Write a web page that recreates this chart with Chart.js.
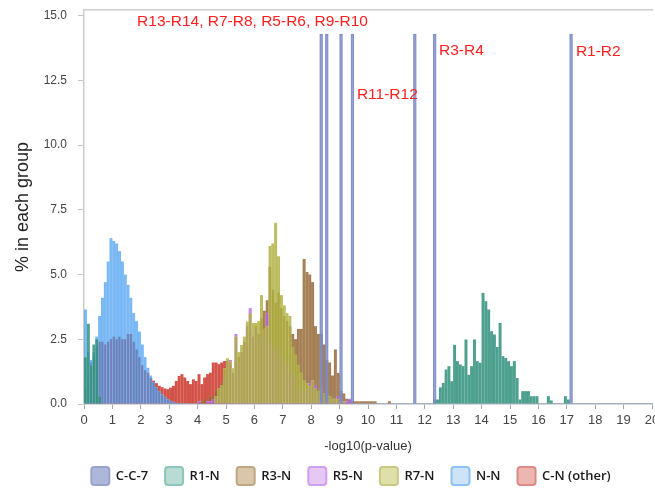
<!DOCTYPE html>
<html>
<head>
<meta charset="utf-8">
<script src="https://cdn.jsdelivr.net/npm/chart.js@4.4.1/dist/chart.umd.min.js"></script>
<style>
  html, body { margin: 0; padding: 0; background: #fff; }
</style>
</head>
<body>
<canvas id="histChart" width="655" height="489"></canvas>
<script>
// histogram bins are 0.1 wide on the -log10(p) axis
const binWidth = 0.1;

// C-C-7: seven pairs, one per bin
const cc7Bins = [8.3, 8.5, 9.0, 9.4, 11.6, 12.3, 17.1];
const cc7Values = [14.29, 14.29, 14.29, 14.29, 14.29, 14.29, 14.29];

const r1nLowStart = 0.0;
const r1nLow = [1.8, 3.1, 1.5, 2.3, 2.5, 0.3];
const r1nHighStart = 12.3;
const r1nHigh = [0.17, 0.17, 0.64, 0.81, 1.33, 1.46, 0.88, 2.29, 1.65, 1.52,
                 1.46, 2.49, 1.13, 1.46, 2.49, 1.65, 1.59, 4.29, 3.97, 3.65,
                 2.81, 2.68, 2.2, 3.13, 1.84, 1.78, 1.65, 1.46, 1.65, 1.0,
                 0.17, 0.49, 0.49, 0.49, 0.3, 0.3, 0.3, 0, 0, 0,
                 0.3, 0.13, 0, 0, 0, 0, 0.3, 0.17];

const r3nLowStart = 0.2;
const r3nLow = [1.6];
const r3nStart = 4.0;
const r3n = [0.1, 0.1, 0.2, 0.1, 0.3, 0.3, 0.5, 0.6, 0.8, 1.0,
             1.1, 1.3, 1.2, 1.6, 1.8, 2.0, 2.4, 2.2, 2.8, 2.6,
             3.0, 2.7, 3.3, 3.6, 4.0, 5.3, 4.4, 3.9, 4.3, 3.7,
             3.4, 3.2, 3.0, 2.7, 2.5, 2.9, 2.9, 5.6, 5.1, 5.0,
             4.7, 3.0, 2.7, 2.7, 2.3, 1.7, 1.6, 1.1, 2.1, 1.2,
             0.5, 0.4, 0.2, 0.15, 0.1, 0.1, 0.1, 0.1, 0.1, 0.1,
             0.1, 0.1, 0.1, 0, 0, 0, 0, 0.1];

const r5nLowStart = 0.1;
const r5nLow = [1.2, 1.6, 0.9];
const r5nStart = 4.0;
const r5n = [0.1, 0, 0, 0.1, 0.1, 0.2, 0.2, 0.3, 0.6, 1.0,
             1.6, 1.7, 1.2, 2.7, 1.6, 2.0, 2.3, 3.0, 3.7, 2.6,
             2.9, 2.5, 2.8, 2.6, 3.5, 2.4, 2.2, 2.0, 2.1, 1.8,
             1.6, 1.5, 1.3, 1.2, 1.1, 0.4, 0.6, 0.5, 0.6, 0.8,
             0.9, 0.7, 0.4, 0.3, 0.2, 0.4, 0.2, 0.2, 0.2, 0.3,
             0.2, 0.1, 0.1, 0.2];

const r7nStart = 4.6;
const r7n = [0.3, 0.6, 0.73, 1.38, 1.76, 1.64, 1.38, 2.6, 2.0, 2.28,
             2.6, 3.18, 3.5, 3.13, 3.13, 3.2, 4.2, 2.9, 3.0, 6.1,
             6.2, 7.0, 5.7, 4.2, 3.8, 3.5, 3.4, 2.2, 1.9, 1.5,
             1.2, 0.9, 0.8, 0.7, 0.9, 0.6, 0.5, 0.6, 0.4, 0.3,
             0.3, 0.2, 0.2, 0.2, 0.1, 0.1];

const nnStart = 0.0;
const nn = [3.65, 2.0, 1.7, 2.0, 2.6, 3.4, 4.1, 4.7, 5.5, 6.4,
            6.3, 6.2, 5.9, 5.5, 5.0, 4.6, 4.1, 3.5, 3.2, 2.8,
            2.3, 1.8, 1.4, 1.1, 0.85, 0.65, 0.5, 0.38, 0.28, 0.18,
            0.12, 0.08, 0.05, 0.04, 0.03, 0.02];

const cnStart = 0.0;
const cn = [0.6, 0.9, 1.1, 1.8, 2.2, 2.4, 2.4, 2.3, 2.4, 2.5,
            2.6, 2.5, 2.6, 2.5, 2.5, 2.7, 2.7, 2.4, 2.1, 1.8,
            1.5, 1.3, 1.2, 1.0, 0.9, 0.8, 0.7, 0.65, 0.6, 0.57,
            0.63, 0.7, 0.89, 1.08, 1.15, 1.02, 0.89, 0.76, 0.95, 0.89,
            1.15, 0.76, 1.02, 1.15, 1.21, 1.6, 1.6, 1.53, 1.6, 1.66,
            1.66, 1.5];

const yTickValues = [0, 2.5, 5, 7.5, 10, 12.5, 15];

const noteTexts = ['R13-R14, R7-R8, R5-R6, R9-R10', 'R11-R12', 'R3-R4', 'R1-R2'];
const noteX = [1.87, 9.61, 12.5, 17.32];
const noteY = [14.6, 11.78, 13.47, 13.44];

// bar center for each bin, rounded so shared bins line up exactly
function binPoints(start, values) {
  return values.map((v, i) => ({ x: Math.round((start + (i + 0.5) * binWidth) * 100) / 100, y: v }))
               .filter(p => p.y > 0);
}

const styles = {
  'C-C-7':       { fill: 'rgba(128,142,200,0.8)',  edge: 'rgba(110,125,188,0.85)', lgFill: '#aeb6da', lgEdge: '#98a3d0', order: 0 },
  'R1-N':        { fill: 'rgba(50,145,125,0.85)',  edge: 'rgba(160,210,198,0.7)', lgFill: '#b8dcd4', lgEdge: '#8cc6ba', order: 1 },
  'R3-N':        { fill: 'rgba(145,100,50,0.8)',   edge: 'rgba(200,170,130,0.6)', lgFill: '#d9c6ab', lgEdge: '#c0a585', order: 5 },
  'R5-N':        { fill: 'rgba(185,95,232,0.78)',  edge: 'rgba(222,175,246,0.6)', lgFill: '#e6c8f5', lgEdge: '#cf9ef0', order: 4 },
  'R7-N':        { fill: 'rgba(172,174,62,0.8)',   edge: 'rgba(218,218,150,0.6)', lgFill: '#dedfaa', lgEdge: '#c8ca84', order: 3 },
  'N-N':         { fill: 'rgba(60,152,240,0.66)',  edge: 'rgba(175,212,250,0.6)', lgFill: '#cfe3f8', lgEdge: '#8cc2f4', order: 2 },
  'C-N (other)': { fill: 'rgba(205,60,50,0.88)',   edge: 'rgba(232,150,142,0.6)', lgFill: '#ecb6b1', lgEdge: '#dc8a84', order: 6 }
};

const seriesData = {
  'C-C-7': cc7Bins.map((b, i) => ({ x: Math.round((b + binWidth / 2) * 100) / 100, y: cc7Values[i] })),
  'R1-N': binPoints(r1nLowStart, r1nLow).concat(binPoints(r1nHighStart, r1nHigh)),
  'R3-N': binPoints(r3nLowStart, r3nLow).concat(binPoints(r3nStart, r3n)),
  'R5-N': binPoints(r5nLowStart, r5nLow).concat(binPoints(r5nStart, r5n)),
  'R7-N': binPoints(r7nStart, r7n),
  'N-N': binPoints(nnStart, nn),
  'C-N (other)': binPoints(cnStart, cn)
};

const datasets = Object.keys(seriesData).map(name => ({
  label: name,
  data: seriesData[name],
  backgroundColor: styles[name].fill,
  borderColor: styles[name].edge,
  borderWidth: name === 'C-C-7' ? 0.6 : 0.3,
  borderSkipped: 'start',
  grouped: false,
  barPercentage: 1,
  categoryPercentage: 1,
  order: styles[name].order
}));

const noteLabels = {
  id: 'noteLabels',
  afterDatasetsDraw(chart) {
    const { ctx, scales: { x, y } } = chart;
    ctx.save();
    ctx.font = '15.5px "Liberation Sans", Arial, sans-serif';
    ctx.fillStyle = '#ff1f1f';
    ctx.textBaseline = 'alphabetic';
    noteTexts.forEach((t, i) => ctx.fillText(t, x.getPixelForValue(noteX[i]), y.getPixelForValue(noteY[i])));
    ctx.restore();
  }
};

// legend sits a bit right of / below where chart.js puts it
const legendNudge = {
  id: 'legendNudge',
  afterLayout(chart) {
    const lg = chart.legend;
    lg.left += 25; lg.right += 25;
    lg.top += 6; lg.bottom += 6;
  }
};

new Chart(document.getElementById('histChart'), {
  type: 'bar',
  data: { datasets },
  plugins: [noteLabels, legendNudge],
  options: {
    responsive: false,
    animation: false,
    devicePixelRatio: 1,
    layout: { padding: { top: 10, right: 3, left: 0, bottom: 0 } },
    scales: {
      x: {
        type: 'linear',
        offset: false,
        min: 0, max: 20,
        ticks: {
          stepSize: 1, padding: 4, color: '#444',
          font: { family: '"Liberation Sans", Arial, sans-serif', size: 13 },
          callback: v => String(v)
        },
        grid: { display: true, offset: false, drawOnChartArea: false, drawTicks: true, tickLength: 5, color: '#a8a8a8' },
        border: { display: true, color: '#a9b1c0', width: 1.5 },
        title: {
          display: true, text: '-log10(p-value)', color: '#333',
          font: { family: '"Liberation Sans", Arial, sans-serif', size: 13 },
          padding: { top: 0, bottom: -10 }
        },
        afterFit(scale) { scale.height = 40; scale.paddingRight = 0; }
      },
      x2: {
        type: 'linear', position: 'top', offset: false, min: 0, max: 20,
        ticks: { display: false },
        grid: { display: false, drawTicks: false },
        border: { display: true, color: '#cdcdcd', width: 1.5 },
        afterFit(scale) { scale.height = 0; scale.paddingLeft = 0; scale.paddingRight = 0; }
      },
      y: {
        min: 0, max: 15.22,
        afterBuildTicks(scale) { scale.ticks = yTickValues.map(v => ({ value: v })); },
        ticks: {
          padding: 11, color: '#444',
          font: { family: '"Liberation Sans", Arial, sans-serif', size: 12 },
          callback: v => Number(v).toFixed(1)
        },
        grid: { display: true, drawOnChartArea: false, drawTicks: true, tickLength: 6, color: '#c4c4c4' },
        border: { display: true, color: '#cdcdcd', width: 1.5 },
        title: {
          display: true, text: '% in each group', color: '#222',
          font: { family: '"Liberation Sans", Arial, sans-serif', size: 18 },
          padding: { top: 12, bottom: 0 }
        },
        afterFit(scale) { scale.width = 84; scale.paddingTop = 0; scale.paddingBottom = 0; }
      }
    },
    plugins: {
      tooltip: { enabled: false },
      legend: {
        position: 'bottom',
        labels: {
          boxWidth: 18, boxHeight: 18, padding: 17,
          color: '#1a1a1a',
          useBorderRadius: true, borderRadius: 3,
          font: { family: '"Open Sans", "Liberation Sans", sans-serif', size: 13, weight: '600' },
          sort: (a, b) => a.datasetIndex - b.datasetIndex,
          generateLabels(chart) {
            const items = Chart.defaults.plugins.legend.labels.generateLabels(chart);
            items.forEach(it => {
              it.fillStyle = styles[it.text].lgFill;
              it.strokeStyle = styles[it.text].lgEdge;
              it.lineWidth = 2;
            });
            return items;
          }
        }
      }
    }
  }
});
</script>
</body>
</html>
